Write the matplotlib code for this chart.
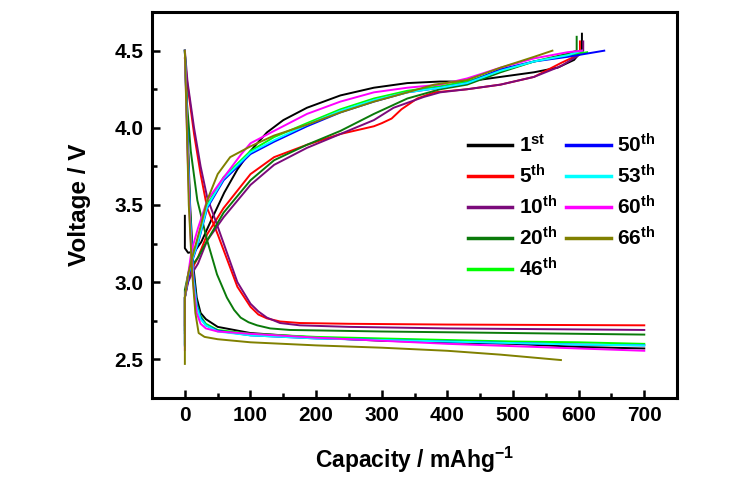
import numpy as np
import matplotlib
matplotlib.use('Agg')
import matplotlib.pyplot as plt
from matplotlib.ticker import MultipleLocator, FormatStrFormatter

plt.rcParams.update({
    'font.family': 'Liberation Sans',
    'font.weight': 'bold',
    'mathtext.fontset': 'custom',
    'mathtext.rm': 'Liberation Sans:bold',
    'mathtext.it': 'Liberation Sans:bold',
    'mathtext.bf': 'Liberation Sans:bold',
})

# ---------------------------------------------------------------------------
# Cycle labels and colours
# ---------------------------------------------------------------------------
cycles = ['1$^{\\mathrm{st}}$', '5$^{\\mathrm{th}}$', '10$^{\\mathrm{th}}$', '20$^{\\mathrm{th}}$',
          '46$^{\\mathrm{th}}$', '50$^{\\mathrm{th}}$', '53$^{\\mathrm{th}}$', '60$^{\\mathrm{th}}$',
          '66$^{\\mathrm{th}}$']
colors = ['#000000', '#ff0000', '#7b0a7b', '#0a7a0a', '#00ff00', '#0000ff', '#00ffff', '#ff00ff', '#808000']

# ---------------------------------------------------------------------------
# Charge curves (capacity mAh/g, voltage V)
# ---------------------------------------------------------------------------
chg_x_1 = [0, 0, 5, 15, 25, 40, 60, 80, 100, 125, 150, 186, 237, 288, 339, 389, 430, 481, 532, 568, 593, 605, 605]
chg_y_1 = [3.43, 3.22, 3.19, 3.20, 3.26, 3.40, 3.58, 3.73, 3.85, 3.97, 4.05, 4.13, 4.21, 4.26, 4.29, 4.30, 4.30, 4.33, 4.36, 4.39, 4.44, 4.50, 4.61]

chg_x_5 = [0, 0, 5, 10, 20, 34, 59, 100, 136, 186, 237, 288, 300, 315, 330, 354, 380, 430, 481, 532, 573, 598, 602, 602]
chg_y_5 = [2.72, 2.90, 3.02, 3.08, 3.16, 3.31, 3.48, 3.70, 3.81, 3.89, 3.96, 4.01, 4.03, 4.06, 4.12, 4.19, 4.23, 4.25, 4.28, 4.33, 4.42, 4.47, 4.50, 4.56]

chg_x_10 = [0, 0, 5, 10, 20, 34, 59, 100, 136, 186, 237, 288, 318, 364, 389, 430, 481, 532, 573, 600, 607, 607]
chg_y_10 = [2.69, 2.90, 3.00, 3.05, 3.12, 3.27, 3.42, 3.63, 3.76, 3.87, 3.96, 4.05, 4.13, 4.20, 4.23, 4.25, 4.28, 4.33, 4.40, 4.47, 4.50, 4.56]

chg_x_20 = [0, 0, 5, 10, 20, 34, 59, 100, 136, 186, 237, 288, 339, 389, 430, 481, 532, 583, 597, 597]
chg_y_20 = [2.67, 2.95, 3.05, 3.10, 3.16, 3.27, 3.45, 3.66, 3.79, 3.89, 3.98, 4.09, 4.19, 4.25, 4.28, 4.36, 4.43, 4.48, 4.50, 4.59]

chg_x_46 = [0, 0, 5, 10, 20, 34, 59, 100, 136, 186, 237, 288, 339, 389, 430, 481, 532, 583, 613]
chg_y_46 = [2.60, 2.90, 3.05, 3.15, 3.28, 3.50, 3.68, 3.85, 3.94, 4.03, 4.12, 4.19, 4.24, 4.27, 4.30, 4.37, 4.43, 4.47, 4.49]

chg_x_50 = [0, 0, 5, 10, 20, 34, 59, 100, 136, 186, 237, 288, 339, 389, 430, 481, 532, 583, 639]
chg_y_50 = [2.59, 2.90, 3.02, 3.12, 3.25, 3.48, 3.66, 3.83, 3.91, 4.01, 4.10, 4.17, 4.23, 4.26, 4.29, 4.38, 4.43, 4.46, 4.50]

chg_x_53 = [0, 0, 5, 10, 20, 34, 59, 100, 136, 186, 237, 288, 339, 389, 430, 481, 532, 583, 605]
chg_y_53 = [2.59, 2.90, 3.04, 3.13, 3.26, 3.49, 3.67, 3.84, 3.92, 4.02, 4.11, 4.18, 4.23, 4.26, 4.29, 4.37, 4.43, 4.47, 4.50]

chg_x_60 = [0, 0, 5, 10, 20, 34, 56, 86, 100, 136, 186, 237, 288, 339, 389, 430, 481, 532, 583, 605]
chg_y_60 = [2.56, 2.90, 3.05, 3.20, 3.35, 3.53, 3.66, 3.83, 3.90, 3.98, 4.09, 4.17, 4.23, 4.26, 4.28, 4.32, 4.39, 4.45, 4.49, 4.50]

chg_x_66 = [0, 0, 5, 10, 24, 34, 50, 69, 100, 136, 186, 237, 288, 339, 380, 430, 481, 532, 560]
chg_y_66 = [2.47, 2.90, 3.05, 3.14, 3.36, 3.53, 3.70, 3.81, 3.88, 3.95, 4.02, 4.10, 4.17, 4.23, 4.28, 4.31, 4.39, 4.46, 4.50]

# ---------------------------------------------------------------------------
# Discharge curves
# ---------------------------------------------------------------------------
dis_x_A = [0, 4, 8, 13, 18, 24, 32, 50, 100, 200, 300, 400, 500, 600, 700]
dis_y_1 = [4.50, 4.00, 3.50, 3.10, 2.90, 2.80, 2.76, 2.71, 2.67, 2.64, 2.62, 2.61, 2.60, 2.58, 2.57]
dis_y_46 = [4.50, 3.95, 3.45, 3.05, 2.86, 2.78, 2.73, 2.69, 2.665, 2.645, 2.635, 2.625, 2.615, 2.61, 2.60]
dis_y_50 = [4.50, 3.95, 3.42, 3.05, 2.85, 2.77, 2.72, 2.685, 2.655, 2.635, 2.625, 2.615, 2.605, 2.595, 2.59]
dis_y_53 = [4.50, 3.90, 3.40, 3.02, 2.84, 2.76, 2.72, 2.68, 2.655, 2.635, 2.625, 2.615, 2.605, 2.595, 2.59]
dis_y_60 = [4.50, 3.85, 3.35, 2.98, 2.80, 2.73, 2.70, 2.68, 2.665, 2.64, 2.62, 2.60, 2.585, 2.57, 2.555]

dis_x_5 = [0, 4, 14, 24, 34, 50, 65, 80, 100, 112, 125, 145, 175, 250, 400, 700]
dis_y_5 = [4.45, 4.28, 3.96, 3.70, 3.48, 3.31, 3.14, 2.97, 2.84, 2.79, 2.765, 2.745, 2.735, 2.73, 2.725, 2.72]

dis_x_10 = [0, 4, 14, 24, 34, 50, 65, 80, 100, 112, 125, 145, 175, 250, 400, 700]
dis_y_10 = [4.50, 4.30, 4.00, 3.75, 3.55, 3.36, 3.18, 3.00, 2.86, 2.81, 2.77, 2.735, 2.72, 2.71, 2.70, 2.69]

dis_x_20 = [0, 3, 9, 19, 34, 49, 64, 75, 85, 97, 110, 130, 160, 300, 500, 700]
dis_y_20 = [4.50, 4.17, 3.85, 3.53, 3.27, 3.05, 2.90, 2.82, 2.77, 2.74, 2.72, 2.70, 2.69, 2.68, 2.67, 2.66]

dis_x_66 = [0, 3, 6, 11, 16, 21, 30, 50, 100, 200, 300, 400, 481, 573]
dis_y_66 = [4.50, 4.00, 3.50, 3.07, 2.80, 2.67, 2.645, 2.63, 2.61, 2.59, 2.575, 2.555, 2.53, 2.495]

charge = [(chg_x_1, chg_y_1), (chg_x_5, chg_y_5), (chg_x_10, chg_y_10), (chg_x_20, chg_y_20),
          (chg_x_46, chg_y_46), (chg_x_50, chg_y_50), (chg_x_53, chg_y_53), (chg_x_60, chg_y_60),
          (chg_x_66, chg_y_66)]
discharge = [(dis_x_A, dis_y_1), (dis_x_5, dis_y_5), (dis_x_10, dis_y_10), (dis_x_20, dis_y_20),
             (dis_x_A, dis_y_46), (dis_x_A, dis_y_50), (dis_x_A, dis_y_53), (dis_x_A, dis_y_60),
             (dis_x_66, dis_y_66)]

fig = plt.figure(figsize=(7.49, 4.84), dpi=100)
ax = fig.add_axes([0.203, 0.178, 0.701, 0.797])

for lab, col, (cx, cy), (dx, dy) in zip(cycles, colors, charge, discharge):
    ax.plot(cx, cy, color=col, lw=1.4, label=lab)
    ax.plot(dx, dy, color=col, lw=1.4)

ax.set_xlim(-50, 750)
ax.set_ylim(2.25, 4.75)
ax.xaxis.set_minor_locator(MultipleLocator(50))
ax.yaxis.set_minor_locator(MultipleLocator(0.25))
ax.set_xticks(np.arange(0, 701, 100))
ax.set_yticks([2.5, 3.0, 3.5, 4.0, 4.5])
ax.yaxis.set_major_formatter(FormatStrFormatter('%.1f'))

ax.tick_params(which='major', direction='in', length=6, width=1.8, labelsize=15, pad=6)
ax.tick_params(which='minor', direction='in', length=3.5, width=1.8)
for lbl in ax.get_xticklabels() + ax.get_yticklabels():
    lbl.set_fontweight('bold')
for sp in ax.spines.values():
    sp.set_linewidth(2.2)

ax.set_xlabel('Capacity / mAhg$^{-1}$', fontsize=16.5, fontweight='bold', labelpad=14)
ax.set_ylabel('Voltage / V', fontsize=17.5, fontweight='bold', labelpad=17)

leg = ax.legend(ncol=2, frameon=False, loc='upper left', bbox_to_anchor=(0.585, 0.708),
                fontsize=15, handlelength=2.15, handletextpad=0.3, columnspacing=0.45,
                labelspacing=0.38, borderaxespad=0)
for line in leg.get_lines():
    line.set_linewidth(2.5)

fig.savefig('out.png', dpi=100)
